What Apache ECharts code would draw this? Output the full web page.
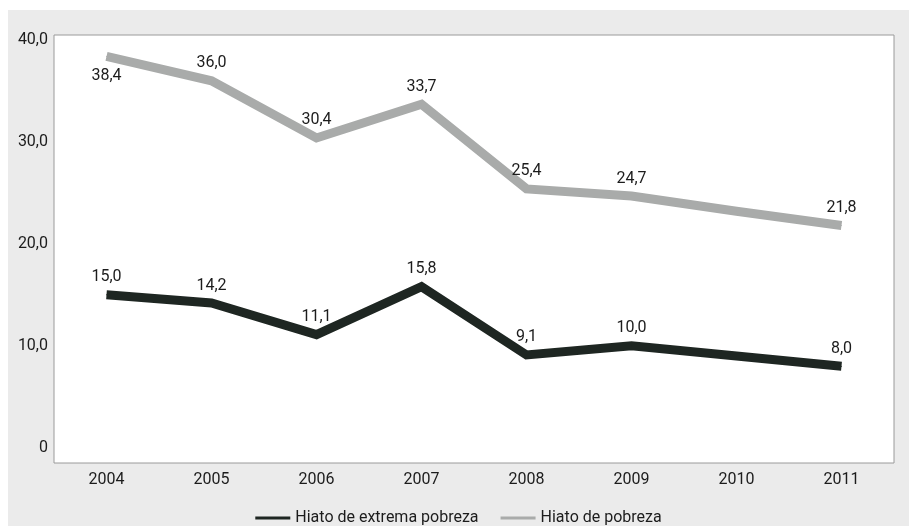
<!DOCTYPE html>
<html>
<head>
<meta charset="utf-8">
<script src="https://cdn.jsdelivr.net/npm/echarts@6/dist/echarts.min.js"></script>
<style>
  html, body { margin: 0; padding: 0; background: #ffffff; }
  #chart { position: absolute; left: 8px; top: 10px; width: 901px; height: 516px; background: #ebebeb; }
</style>
</head>
<body>
<div id="chart"></div>
<script>
// Poverty gap series, 2004–2011
const years = ['2004', '2005', '2006', '2007', '2008', '2009', '2010', '2011'];
const hiatoExtrema = [15.0, 14.2, 11.1, 15.8, 9.1, 10.0, 9.0, 8.0];
const hiatoPobreza = [38.4, 36.0, 30.4, 33.7, 25.4, 24.7, 23.2, 21.8];
const yTicks = [0, 10, 20, 30, 40];
// years whose value is not printed on the chart
const unlabeledYears = ['2010'];
// points whose label sits under the line
const belowLabels = { pobreza: ['2004'], extrema: [] };

const FONT = 'Roboto, sans-serif';
const TEXT = '#1c1c1c';
const fmt = v => v === 0 ? '0' : v.toFixed(1).replace('.', ',');

function buildData(values, below) {
  return values.map((v, i) => {
    const item = { value: v };
    if (unlabeledYears.includes(years[i])) item.label = { show: false };
    else if (below.includes(years[i])) item.label = { position: 'bottom', distance: 11 };
    return item;
  });
}

function lineSeries(name, values, below, color) {
  return {
    name, type: 'line',
    data: buildData(values, below),
    color,
    symbol: 'circle', symbolSize: 1, showSymbol: true,
    itemStyle: { color },
    lineStyle: { width: 9, color, join: 'miter' },
    label: { show: true, position: 'top', distance: 9, formatter: p => fmt(p.value),
             fontFamily: FONT, fontSize: 16, color: TEXT }
  };
}

const chart = echarts.init(document.getElementById('chart'));
chart.setOption({
  backgroundColor: '#ebebeb',
  animation: false,
  grid: {
    left: 46, right: 15, top: 25, bottom: 63,
    show: true, backgroundColor: '#ffffff', borderColor: '#9a9a9a', borderWidth: 1
  },
  legend: {
    top: 495, left: 'center',
    icon: 'rect', itemWidth: 35, itemHeight: 3, itemGap: 22,
    textStyle: { fontFamily: FONT, fontSize: 16, color: TEXT },
    data: ['Hiato de extrema pobreza', 'Hiato de pobreza']
  },
  xAxis: {
    type: 'category', data: years, boundaryGap: true,
    axisLine: { show: false }, axisTick: { show: false },
    axisLabel: { margin: 9, fontFamily: FONT, fontSize: 16, color: TEXT }
  },
  yAxis: {
    type: 'value', min: -1.5, max: 40.5,
    splitLine: { show: false }, axisLine: { show: false }, axisTick: { show: false },
    axisLabel: {
      customValues: yTicks, margin: 6, formatter: fmt,
      fontFamily: FONT, fontSize: 16, color: TEXT
    }
  },
  series: [
    lineSeries('Hiato de extrema pobreza', hiatoExtrema, belowLabels.extrema, '#1e2622'),
    lineSeries('Hiato de pobreza', hiatoPobreza, belowLabels.pobreza, '#a9abaa')
  ]
});
</script>
</body>
</html>
